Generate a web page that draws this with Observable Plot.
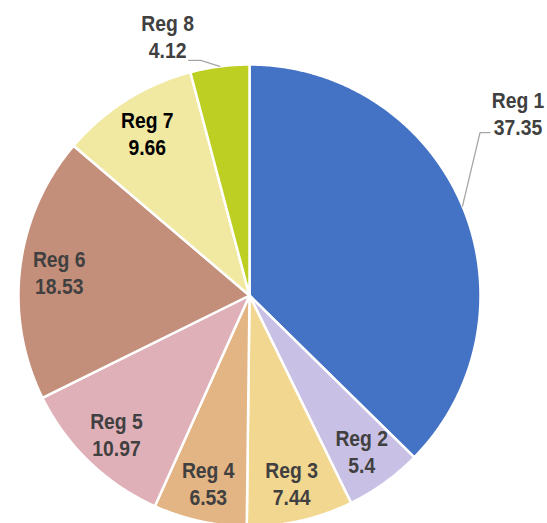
<!DOCTYPE html>
<html>
<head>
<meta charset="utf-8">
<script src="https://cdn.jsdelivr.net/npm/d3@7"></script>
<script src="https://cdn.jsdelivr.net/npm/@observablehq/plot@0.6"></script>
<style>
  html, body { margin: 0; padding: 0; background: #fff; }
  #chart { width: 547px; height: 523px; overflow: hidden; }
  svg { display: block; }
</style>
</head>
<body>
<div id="chart"></div>
<script>
// ---- data ----
const names  = ["Reg 1", "Reg 2", "Reg 3", "Reg 4", "Reg 5", "Reg 6", "Reg 7", "Reg 8"];
const values = [37.35, 5.4, 7.44, 6.53, 10.97, 18.53, 9.66, 4.12];
const colors = ["#4472C4", "#C9C0E6", "#F2D790", "#E3B484", "#E0B0B8", "#C48F7A", "#F1E8A2", "#BDCF22"];
const outsideLabels = ["Reg 1", "Reg 8"];

// ---- layout ----
const W = 547, H = 523;
const cx = 249, cy = 295, R = 231;
const insideFrac = 0.83;
const FONT = "'Liberation Sans Narrow', 'Arial Narrow', 'Liberation Sans', Arial, sans-serif";
const narrow = 0.86; // horizontal condensing of label text

const arcs = d3.pie().sort(null).value(d => d)(values);
const slices = arcs.map((a, i) => ({name: names[i], value: values[i], a0: a.startAngle, a1: a.endAngle, mid: (a.startAngle + a.endAngle) / 2}));

// polygon points for each slice (data units: radius = 1, y up)
const pts = [];
for (const s of slices) {
  pts.push({name: s.name, x: 0, y: 0});
  const n = Math.max(2, Math.ceil((s.a1 - s.a0) / (Math.PI / 360)));
  for (let k = 0; k <= n; k++) {
    const a = s.a0 + (s.a1 - s.a0) * k / n;
    pts.push({name: s.name, x: Math.sin(a), y: Math.cos(a)});
  }
  pts.push({name: s.name, x: 0, y: 0});
}

// label placement
const px = v => v / R; // pixel offset -> data units
const outsideOffsets = {"Reg 1": {lx: 55.5, ly: -93.5, leader: [[17.5, -73.5], [27.5, -73.5]]},
                        "Reg 8": {lx: -52, ly: -31, leader: [[-19, -6], [-31, -6]]}};
const labels = slices.map(s => {
  const ex = Math.sin(s.mid), ey = Math.cos(s.mid);
  if (outsideLabels.includes(s.name)) {
    const o = outsideOffsets[s.name];
    return {...s, x: ex + px(o.lx), y: ey - px(o.ly)};
  }
  return {...s, x: ex * insideFrac, y: ey * insideFrac};
});
const leaders = [];
for (const s of slices) {
  if (!outsideLabels.includes(s.name)) continue;
  const ex = Math.sin(s.mid), ey = Math.cos(s.mid);
  leaders.push({name: s.name, x: ex, y: ey});
  for (const [dx, dy] of outsideOffsets[s.name].leader) leaders.push({name: s.name, x: ex + px(dx), y: ey - px(dy)});
}

const txt = d => d.name + "\n" + d.value;
const textOpts = {x: "x", y: "y", text: txt, fontSize: 22.5, fontWeight: "bold", lineHeight: 1.2, fontFamily: FONT, textAnchor: "middle"};

const chart = Plot.plot({
  width: W, height: H,
  margin: 0,
  x: {domain: [-cx / R, (W - cx) / R], axis: null},
  y: {domain: [-(H - cy) / R, cy / R], axis: null},
  color: {domain: names, range: colors},
  style: {background: "#fff", overflow: "hidden"},
  marks: [
    Plot.line(pts, {x: "x", y: "y", z: "name", fill: "name", stroke: "#fff", strokeWidth: 2.5, strokeLinejoin: "round", curve: "linear"}),
    Plot.line(leaders, {x: "x", y: "y", z: "name", stroke: "#A6A6A6", strokeWidth: 1.3}),
    Plot.text(labels.filter(d => d.name !== "Reg 7"), {...textOpts, fill: "#404040"}),
    Plot.text(labels.filter(d => d.name === "Reg 7"), {...textOpts, fill: "#000"})
  ]
});
// condense label glyphs horizontally (no narrow font installed)
chart.querySelectorAll("text").forEach(t => {
  const tr = t.getAttribute("transform") || "";
  t.setAttribute("transform", tr + ` scale(${narrow},1)`);
});
document.getElementById("chart").appendChild(chart);
</script>
</body>
</html>
